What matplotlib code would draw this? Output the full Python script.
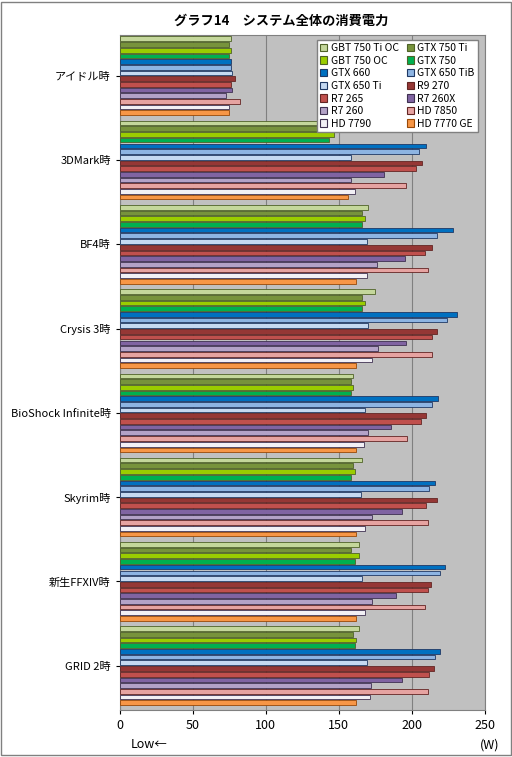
import matplotlib
matplotlib.use("Agg")
import matplotlib.pyplot as plt
import numpy as np
from matplotlib.patches import Patch

plt.rcParams['font.family'] = ['Noto Sans CJK JP', 'DejaVu Sans']

categories = ["アイドル時", "3DMark時", "BF4時", "Crysis 3時", "BioShock Infinite時", "Skyrim時", "新生FFXIV時", "GRID 2時"]
series = ["GBT 750 Ti OC", "GTX 750 Ti", "GBT 750 OC", "GTX 750", "GTX 660", "GTX 650 TiB",
          "GTX 650 Ti", "R9 270", "R7 265", "R7 260X", "R7 260", "HD 7850", "HD 7790", "HD 7770 GE"]
colors = ["#C4D79B", "#77933C", "#9ACD00", "#00B050", "#0070C0", "#8DB4E2", "#C5D9F1",
          "#953735", "#C0504D", "#8064A2", "#B3A2C7", "#E6A3A1", "#F2F0F5", "#F79646"]
edges = ["#4F6228", "#4F6228", "#4F6228", "#4F6228", "#1F3864", "#1F3864", "#1F3864",
         "#632523", "#632523", "#3F3151", "#3F3151", "#632523", "#3F3151", "#984807"]
values = [
    [76, 75, 76, 75, 76, 76, 77, 79, 76, 77, 73, 82, 75, 75],
    [151, 145, 147, 143, 210, 205, 158, 207, 203, 181, 158, 196, 161, 156],
    [170, 166, 168, 166, 228, 217, 169, 214, 209, 195, 176, 211, 169, 162],
    [175, 166, 168, 166, 231, 224, 170, 217, 214, 196, 177, 214, 173, 162],
    [160, 158, 160, 158, 218, 214, 168, 210, 206, 186, 170, 197, 167, 162],
    [166, 160, 161, 158, 216, 212, 165, 217, 210, 193, 173, 211, 168, 162],
    [164, 158, 164, 161, 223, 219, 166, 213, 211, 189, 173, 209, 168, 162],
    [164, 160, 162, 161, 219, 216, 169, 215, 212, 193, 172, 211, 171, 162],
]
xticks = [0, 50, 100, 150, 200, 250]

fig = plt.figure(figsize=(5.12, 7.57), dpi=100)
fig.patch.set_facecolor("white")
ax = fig.add_axes([0.234, 0.062, 0.713, 0.892])
ax.set_facecolor("#C0C0C0")
n = len(series)
step = n + 0.8
for gi, vals in enumerate(values):
    for si, v in enumerate(vals):
        y = gi * step + si
        ax.barh(y, v, height=0.82, color=colors[si], edgecolor=edges[si], linewidth=0.6, zorder=3)
ax.set_ylim(len(categories) * step - 0.5, -0.7)
ax.set_yticks([gi * step + (n - 1) / 2 for gi in range(len(categories))])
ax.set_yticklabels(categories, fontsize=8)
ax.set_xlim(0, 250)
ax.set_xticks(xticks)
ax.set_xticklabels([str(t) for t in xticks], fontsize=9)
ax.grid(axis='x', color="#808080", linewidth=0.8, zorder=0)
ax.tick_params(axis='both', length=3)
for s in ax.spines.values():
    s.set_color("#808080")

handles = [Patch(facecolor=c, edgecolor=e, linewidth=0.8) for c, e in zip(colors, edges)]
order = list(range(0, n, 2)) + list(range(1, n, 2))
leg = ax.legend([handles[i] for i in order], [series[i] for i in order], ncol=2,
                loc="upper right", fontsize=7.5, frameon=True,
                fancybox=False, edgecolor="#808080", handlelength=0.7, handleheight=0.7,
                handletextpad=0.3, columnspacing=0.8, labelspacing=0.25, borderpad=0.3,
                bbox_to_anchor=(0.995, 1.0))
leg.get_frame().set_linewidth(1)
leg.get_frame().set_facecolor("white")
leg.get_frame().set_alpha(1)
leg.set_zorder(5)

fig.text(0.55, 0.972, "グラフ14　システム全体の消費電力", ha="center", va="center", fontsize=9.5, fontweight="bold")
fig.text(0.255, 0.016, "Low←", ha="left", va="center", fontsize=9)
fig.text(0.975, 0.016, "(W)", ha="right", va="center", fontsize=9)
fig.add_artist(plt.Rectangle((0.002, 0.002), 0.996, 0.996, transform=fig.transFigure,
                             fill=False, edgecolor="#808080", linewidth=1))
fig.savefig("out.png", dpi=100)
